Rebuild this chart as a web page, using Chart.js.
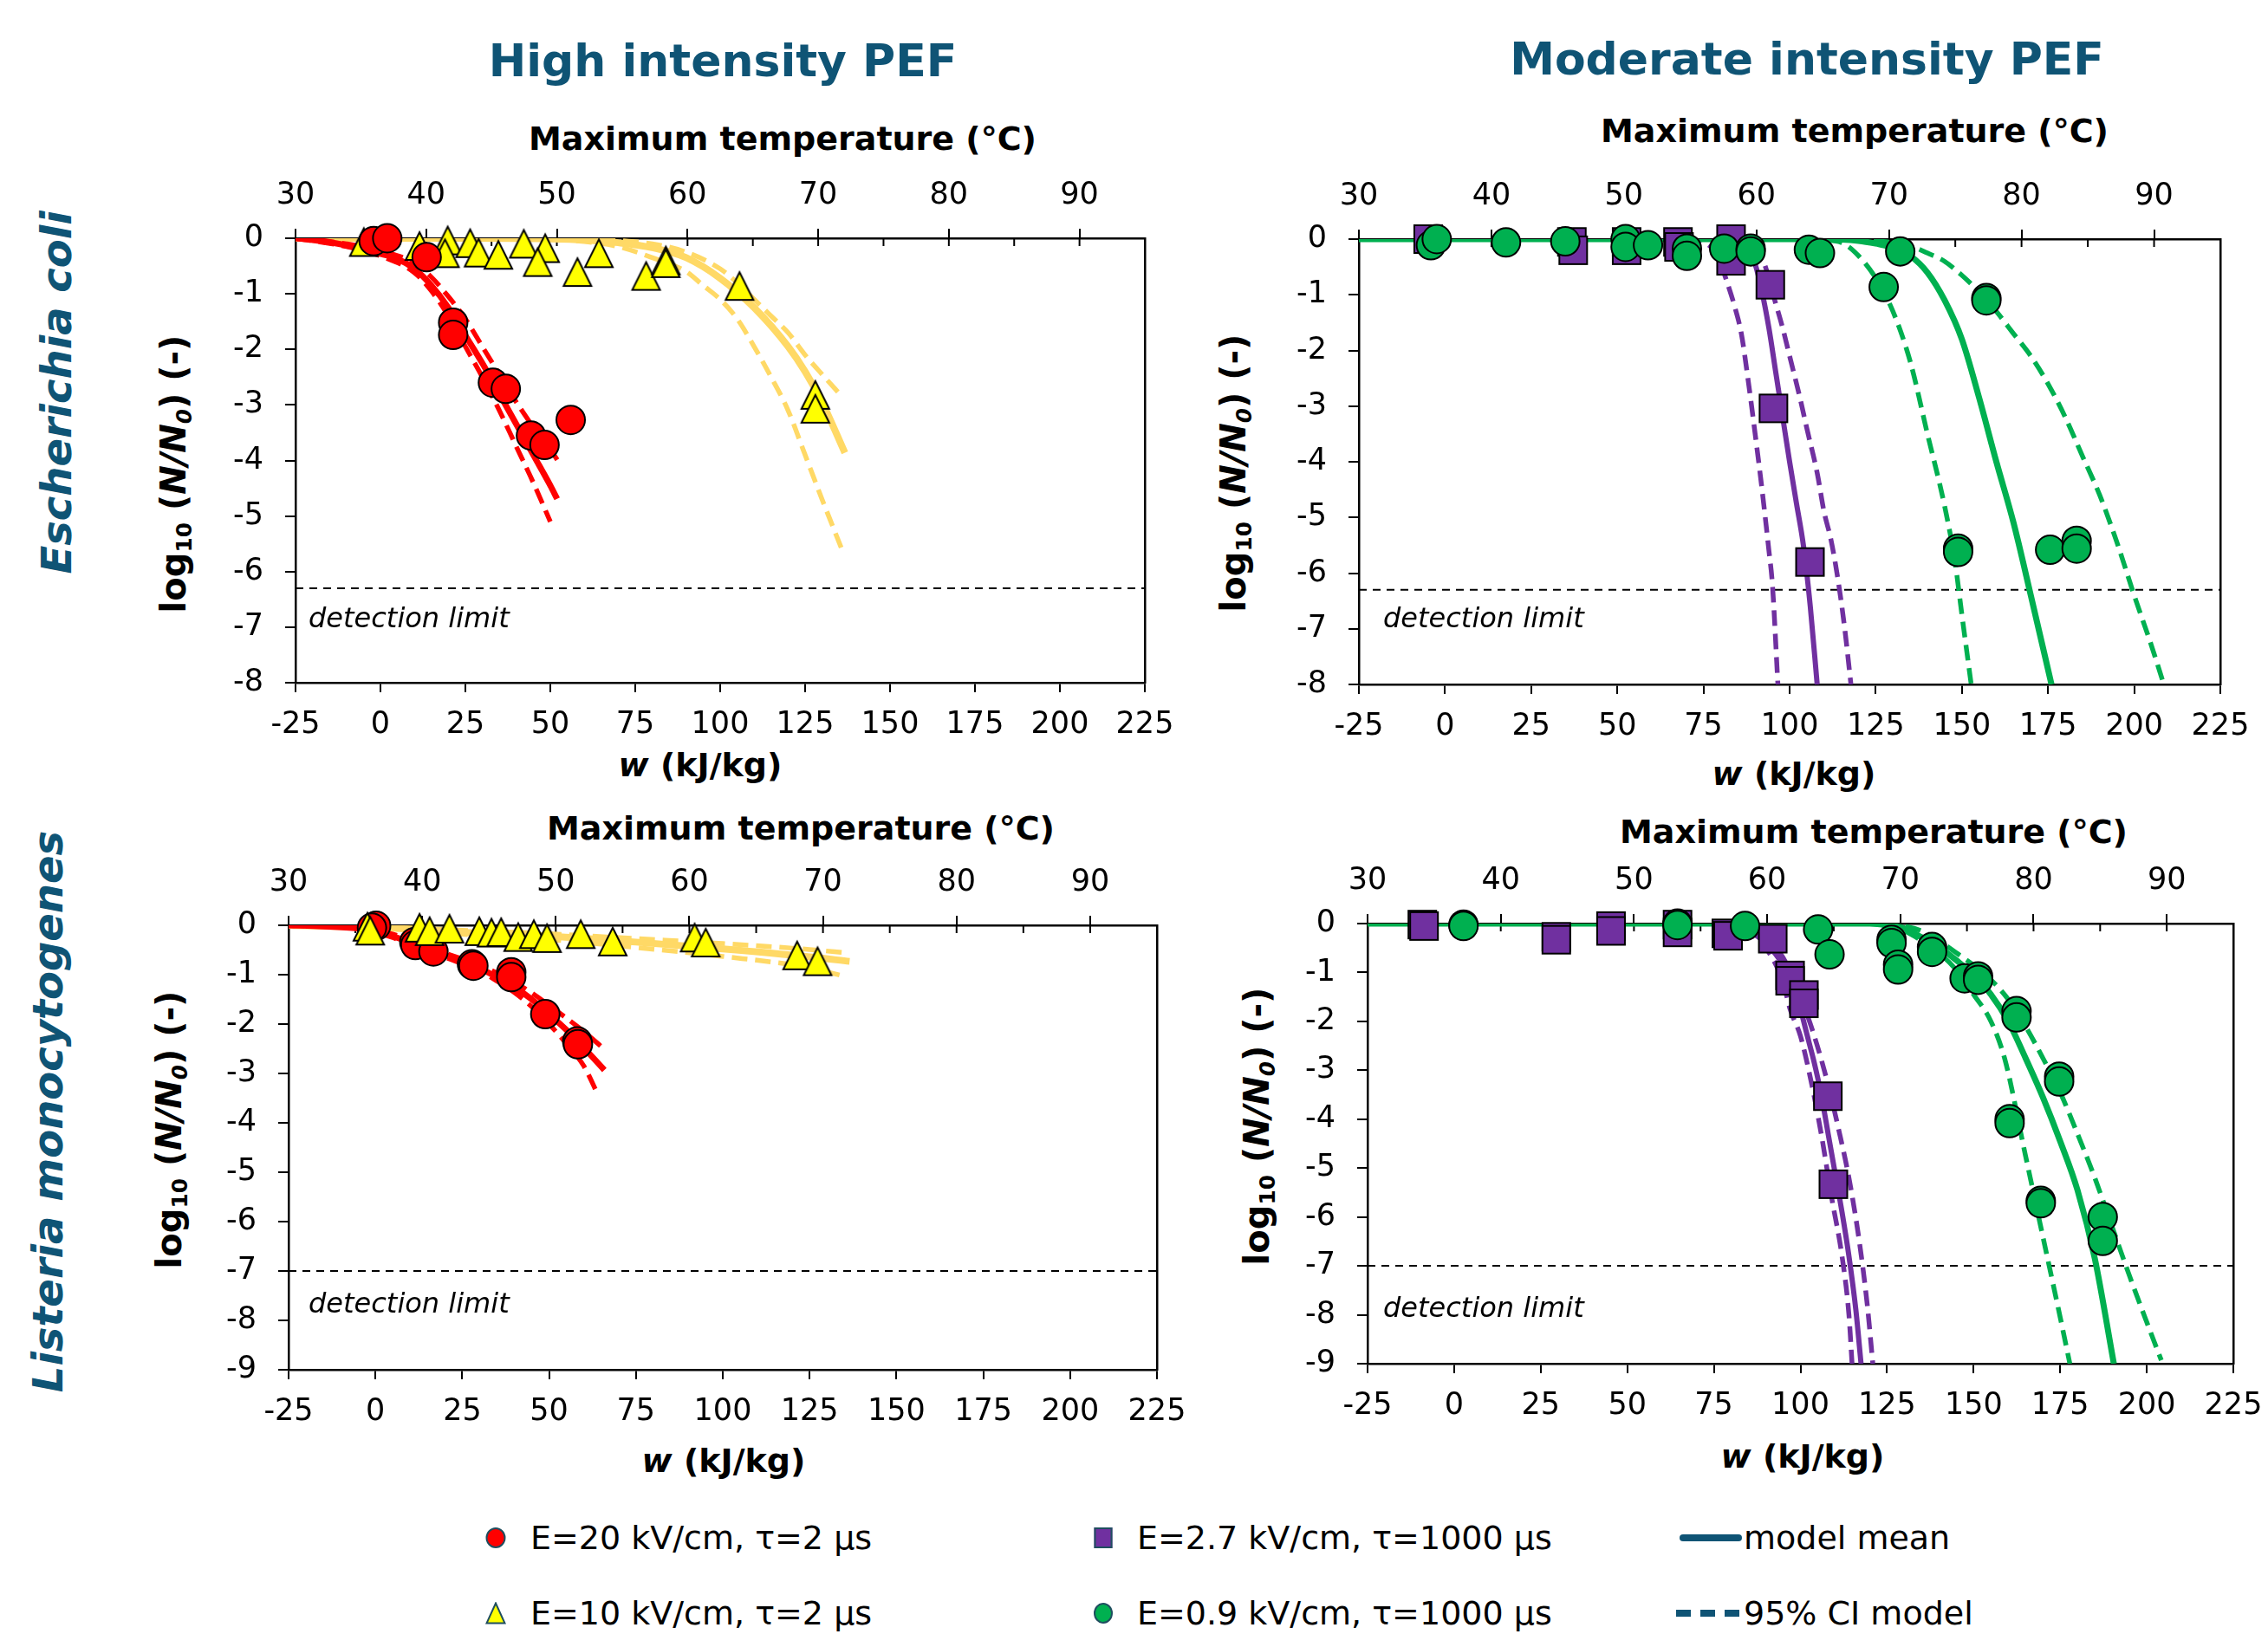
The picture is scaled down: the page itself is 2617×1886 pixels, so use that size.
<!DOCTYPE html>
<html><head><meta charset="utf-8">
<script src="https://cdn.jsdelivr.net/npm/chart.js@4.4.1/dist/chart.umd.min.js"></script>
<style>
html,body{margin:0;padding:0;background:#fff;}
body{width:2617px;height:1886px;position:relative;overflow:hidden;font-family:'DejaVu Sans',Verdana,sans-serif;color:#000;}
canvas{position:absolute;}
.t{position:absolute;transform:translate(-50%,-50%);white-space:nowrap;line-height:1;}
.rot{transform:translate(-50%,-50%) rotate(-90deg);}
.head{font-size:52px;font-weight:bold;color:#0F5475;}
.row{font-size:48px;font-weight:bold;font-style:italic;color:#0F5475;}
.ax{font-size:38px;font-weight:bold;}
.yt{font-size:40px;font-weight:bold;}
.sub{font-size:0.62em;position:relative;top:0.28em;}
.det{position:absolute;font-size:32px;font-style:italic;line-height:1;white-space:nowrap;}
.lg{position:absolute;font-size:38px;line-height:1;white-space:nowrap;transform:translateY(-50%);}
.mk{position:absolute;transform:translate(-50%,-50%);box-sizing:border-box;}
</style>
</head><body>

<div class="t head" style="left:834px;top:70px;">High intensity PEF</div>
<div class="t head" style="left:2085px;top:68px;">Moderate intensity PEF</div>
<div class="t row rot" style="left:65px;top:453px;">Escherichia coli</div>
<div class="t row rot" style="left:55px;top:1283px;">Listeria monocytogenes</div>

<div class="t ax" style="left:903px;top:160px;">Maximum temperature (°C)</div>
<div class="t ax" style="left:2140px;top:151px;">Maximum temperature (°C)</div>
<div class="t ax" style="left:924px;top:956px;">Maximum temperature (°C)</div>
<div class="t ax" style="left:2162px;top:960px;">Maximum temperature (°C)</div>

<div class="t ax" style="left:808px;top:883px;"><i>w</i> (kJ/kg)</div>
<div class="t ax" style="left:2070px;top:893px;"><i>w</i> (kJ/kg)</div>
<div class="t ax" style="left:835px;top:1686px;"><i>w</i> (kJ/kg)</div>
<div class="t ax" style="left:2080px;top:1681px;"><i>w</i> (kJ/kg)</div>

<div class="t yt rot" style="left:200px;top:547px;">log<span class="sub">10</span> (<i>N/N<span class="sub">0</span></i>) (-)</div>
<div class="t yt rot" style="left:1423px;top:546px;">log<span class="sub">10</span> (<i>N/N<span class="sub">0</span></i>) (-)</div>
<div class="t yt rot" style="left:195px;top:1304px;">log<span class="sub">10</span> (<i>N/N<span class="sub">0</span></i>) (-)</div>
<div class="t yt rot" style="left:1450px;top:1300px;">log<span class="sub">10</span> (<i>N/N<span class="sub">0</span></i>) (-)</div>

<canvas id="cTL"></canvas>
<canvas id="cTR"></canvas>
<canvas id="cBL"></canvas>
<canvas id="cBR"></canvas>

<div class="det" style="left:356px;top:697px;">detection limit</div>
<div class="det" style="left:1596px;top:697px;">detection limit</div>
<div class="det" style="left:356px;top:1488px;">detection limit</div>
<div class="det" style="left:1596px;top:1493px;">detection limit</div>

<!-- legend -->
<div class="mk" style="left:572px;top:1775px;width:23px;height:24px;border-radius:50%;background:#FF0000;border:2px solid #1F4E5F;"></div>
<div class="lg" style="left:612px;top:1775px;">E=20 kV/cm, τ=2 μs</div>
<svg class="mk" style="left:572px;top:1862px;" width="24" height="26" viewBox="0 0 24 26"><polygon points="12,1.5 22.5,24.5 1.5,24.5" fill="#FFFF00" stroke="#1F4E5F" stroke-width="2"/></svg>
<div class="lg" style="left:612px;top:1862px;">E=10 kV/cm, τ=2 μs</div>
<div class="mk" style="left:1273px;top:1775px;width:21px;height:24px;background:#7030A0;border:2px solid #1F4E5F;"></div>
<div class="lg" style="left:1312px;top:1775px;">E=2.7 kV/cm, τ=1000 μs</div>
<div class="mk" style="left:1273px;top:1862px;width:22px;height:24px;border-radius:50%;background:#00B050;border:2px solid #1F4E5F;"></div>
<div class="lg" style="left:1312px;top:1862px;">E=0.9 kV/cm, τ=1000 μs</div>
<div style="position:absolute;left:1938px;top:1771px;width:72px;height:8px;border-radius:4px;background:#0F5475;"></div>
<div class="lg" style="left:2012px;top:1775px;">model mean</div>
<div style="position:absolute;left:1934px;top:1858px;width:74px;height:8px;background:repeating-linear-gradient(to right,#0F5475 0 17px,transparent 17px 28px);"></div>
<div class="lg" style="left:2012px;top:1862px;">95% CI model</div>

<script>
// ---------------- DATA ----------------
// axis ranges
const wTicks = [-25, 225];          // w axis (kJ/kg) bounds
const tempTicks = [30, 95];         // maximum temperature axis (°C) bounds
const yMinTop = -8, yMinBottom = -9;
const detLimitTop = -6.3;           // E. coli detection limit
const detLimitBottom = -7.0;        // L. monocytogenes detection limit

// ===== E. coli, high intensity =====
const ecHiRed_w = [-2, 2, 13.6, 21.4, 21.4, 33.1, 36.9, 44.3, 48.3, 56.0];
const ecHiRed_y = [-0.05, 0.0, -0.34, -1.52, -1.74, -2.6, -2.71, -3.55, -3.72, -3.27];
const ecHiYel_w = [-4.9, 11.5, 19.8, 19.0, 26.4, 28.9, 34.7, 42.2, 48.5, 46.3, 58.0, 64.3, 78.2, 84.0, 84.0, 105.7, 128.0, 128.0];
const ecHiYel_y = [-0.07, -0.14, -0.04, -0.27, -0.09, -0.26, -0.3, -0.1, -0.18, -0.43, -0.61, -0.27, -0.68, -0.4, -0.45, -0.86, -2.82, -3.07];

const ecHiRedMean_w = [-25, -20, -15, -10, -5, 0, 5, 10, 15, 20, 25, 30, 35, 40, 45, 50, 52];
const ecHiRedMean_y = [0, -0.03, -0.07, -0.13, -0.2, -0.28, -0.37, -0.55, -0.85, -1.25, -1.75, -2.25, -2.8, -3.35, -3.9, -4.45, -4.69];
const ecHiRedUp_w = [-25, -10, 0, 10, 15, 20, 25, 30, 35, 40, 45, 50, 53];
const ecHiRedUp_y = [0, -0.1, -0.22, -0.45, -0.7, -1.05, -1.45, -1.95, -2.45, -2.95, -3.4, -3.8, -4.08];
const ecHiRedLo_w = [-25, -10, 0, 10, 15, 20, 25, 30, 35, 40, 45, 50];
const ecHiRedLo_y = [0, -0.15, -0.32, -0.62, -0.95, -1.4, -1.95, -2.5, -3.1, -3.75, -4.4, -5.1];

const ecHiYelMean_w = [-25, 0, 25, 50, 60, 70, 80, 90, 100, 110, 120, 125, 130, 136.7];
const ecHiYelMean_y = [0, 0, 0, -0.01, -0.03, -0.08, -0.17, -0.35, -0.72, -1.25, -1.95, -2.4, -2.95, -3.86];
const ecHiYelUp_w = [-25, 0, 25, 50, 60, 70, 80, 90, 100, 105, 110, 115, 120, 125, 130, 135.6];
const ecHiYelUp_y = [0, 0, 0, 0, -0.01, -0.04, -0.1, -0.25, -0.55, -0.8, -1.1, -1.4, -1.7, -2.1, -2.45, -2.83];
const ecHiYelLo_w = [-25, 0, 25, 50, 60, 70, 80, 90, 95, 100, 105, 110, 115, 120, 125, 130, 136.4];
const ecHiYelLo_y = [0, 0, -0.01, -0.02, -0.06, -0.15, -0.35, -0.6, -0.85, -1.1, -1.45, -1.95, -2.5, -3.1, -3.9, -4.7, -5.69];

// ===== E. coli, moderate intensity =====
const ecMoPur_w = [-4.9, 36.8, 37.2, 52.7, 52.7, 67.6, 67.9, 83, 83, 94.4, 95.3, 105.9];
const ecMoPur_y = [0, -0.05, -0.2, -0.05, -0.2, -0.05, -0.14, 0, -0.39, -0.82, -3.04, -5.8];
const ecMoGrn_w = [-4.1, -2.4, 17.7, 34.9, 52.4, 52.4, 58.9, 70.2, 70.2, 81, 88.7, 88.7, 105.6, 108.8, 127.3, 132.1, 157.1, 157.1, 148.9, 148.9, 175.6, 183.3, 183.3];
const ecMoGrn_y = [-0.11, 0, -0.06, -0.04, 0, -0.14, -0.11, -0.17, -0.3, -0.17, -0.17, -0.22, -0.19, -0.25, -0.86, -0.22, -1.06, -1.1, -5.56, -5.62, -5.58, -5.42, -5.56];

const ecMoPurMean_w = [-25, 80, 85, 88, 90, 92, 94, 96, 98, 100, 102, 104, 106, 108];
const ecMoPurMean_y = [0, 0, -0.05, -0.2, -0.45, -0.95, -1.6, -2.4, -3.2, -4.0, -4.75, -5.5, -6.6, -8];
const ecMoPurLo_w = [-25, 70, 75, 78, 80, 82, 84, 86, 88, 90, 92, 94, 95, 96.6];
const ecMoPurLo_y = [0, 0, -0.05, -0.2, -0.45, -0.8, -1.2, -1.7, -2.55, -3.5, -4.5, -5.6, -6.2, -8];
const ecMoPurUp_w = [-25, 85, 90, 93, 95, 98, 100, 103, 105, 108, 110, 112, 114, 116, 117.8];
const ecMoPurUp_y = [0, 0, -0.1, -0.5, -0.95, -1.6, -2.1, -2.85, -3.4, -4.2, -4.9, -5.4, -6.1, -7.0, -8];

const ecMoGrnMean_w = [-25, 110, 120, 125, 130, 135, 140, 145, 150, 155, 160, 165, 170, 176];
const ecMoGrnMean_y = [0, 0, -0.03, -0.08, -0.15, -0.3, -0.6, -1.1, -1.8, -2.85, -4.0, -5.1, -6.4, -8];
const ecMoGrnLo_w = [-25, 105, 110, 115, 120, 125, 130, 135, 140, 145, 148, 150, 152.7];
const ecMoGrnLo_y = [0, 0, -0.02, -0.06, -0.3, -0.7, -1.3, -2.2, -3.5, -4.8, -5.8, -6.75, -8];
const ecMoGrnUp_w = [-25, 115, 125, 135, 140, 145, 150, 155, 160, 165, 170, 175, 180, 185, 190, 195, 200, 205, 208.6];
const ecMoGrnUp_y = [0, 0, -0.03, -0.12, -0.25, -0.4, -0.65, -0.95, -1.3, -1.7, -2.1, -2.6, -3.2, -3.9, -4.6, -5.45, -6.4, -7.3, -8];

// ===== L. monocytogenes, high intensity =====
const lmHiRed_w = [0.2, -1.0, 11.2, 11.5, 16.7, 27.8, 28.2, 39.1, 39.1, 48.9, 58.1, 58.3];
const lmHiRed_y = [-0.01, -0.05, -0.34, -0.4, -0.53, -0.79, -0.82, -0.95, -1.05, -1.8, -2.35, -2.41];
const lmHiYel_w = [-2.3, -1.5, 12.7, 15.6, 21.3, 29.9, 33.4, 36.2, 41.1, 45.6, 49.4, 59.1, 68.3, 91.9, 95.1, 121.4, 127.3];
const lmHiYel_y = [-0.03, -0.11, -0.05, -0.12, -0.07, -0.12, -0.15, -0.14, -0.24, -0.18, -0.26, -0.18, -0.33, -0.25, -0.35, -0.61, -0.73];

const lmHiRedMean_w = [-25, -15, -5, 0, 5, 10, 15, 20, 25, 30, 35, 40, 45, 50, 55, 60, 65.9];
const lmHiRedMean_y = [0, -0.02, -0.06, -0.11, -0.22, -0.35, -0.48, -0.6, -0.73, -0.87, -1.05, -1.25, -1.5, -1.8, -2.12, -2.48, -2.93];
const lmHiRedUp_w = [-25, -5, 5, 15, 25, 30, 35, 40, 45, 50, 55, 60, 65.9];
const lmHiRedUp_y = [0, -0.05, -0.18, -0.44, -0.68, -0.8, -0.97, -1.15, -1.37, -1.62, -1.88, -2.15, -2.51];
const lmHiRedLo_w = [-25, -5, 5, 15, 25, 30, 35, 40, 45, 50, 55, 60, 64];
const lmHiRedLo_y = [0, -0.07, -0.25, -0.52, -0.78, -0.92, -1.13, -1.36, -1.65, -2.0, -2.4, -2.85, -3.42];

const lmHiYelMean_w = [-25, 0, 25, 50, 75, 100, 125, 136.5];
const lmHiYelMean_y = [0, -0.04, -0.14, -0.22, -0.34, -0.48, -0.64, -0.73];
const lmHiYelUp_w = [-25, 0, 25, 50, 75, 100, 125, 135.7];
const lmHiYelUp_y = [0, -0.03, -0.1, -0.17, -0.27, -0.37, -0.49, -0.56];
const lmHiYelLo_w = [-25, 0, 25, 50, 75, 100, 125, 134.9];
const lmHiYelLo_y = [0, -0.05, -0.18, -0.29, -0.45, -0.63, -0.86, -1.03];

// ===== L. monocytogenes, moderate intensity =====
const lmMoPur_w = [-9.2, -8.7, 29.5, 29.5, 45.3, 45.3, 64.5, 64.5, 78.6, 79.1, 92, 97, 97, 101, 101, 107.9, 109.5];
const lmMoPur_y = [-0.02, -0.05, -0.27, -0.33, -0.05, -0.15, -0.02, -0.18, -0.2, -0.25, -0.31, -1.06, -1.17, -1.46, -1.63, -3.53, -5.33];
const lmMoGrn_w = [2.7, 2.7, 64.5, 64.5, 84, 105.1, 108.4, 126.3, 126.3, 128.2, 128.2, 138, 138, 147.4, 151.3, 151.3, 162.4, 162.4, 160.4, 160.4, 174.7, 174.7, 169.4, 169.4, 187.3, 187.3];
const lmMoGrn_y = [-0.02, -0.05, 0, -0.03, -0.05, -0.12, -0.63, -0.33, -0.4, -0.84, -0.94, -0.48, -0.58, -1.12, -1.08, -1.15, -1.79, -1.92, -4.0, -4.08, -3.13, -3.23, -5.67, -5.72, -6.0, -6.49];

const lmMoPurMean_w = [-25, 75, 80, 85, 90, 95, 98, 100, 102, 104, 106, 108, 110, 112, 114, 116, 117.5];
const lmMoPurMean_y = [0, 0, -0.05, -0.15, -0.4, -0.85, -1.3, -1.75, -2.3, -2.85, -3.5, -4.3, -5.1, -5.9, -6.8, -7.9, -9];
const lmMoPurUp_w = [-25, 75, 85, 90, 95, 100, 104, 108, 111, 114, 117, 119.3, 120.9];
const lmMoPurUp_y = [0, 0, -0.1, -0.3, -0.7, -1.5, -2.3, -3.3, -4.2, -5.2, -6.5, -7.8, -9];
const lmMoPurLo_w = [-25, 75, 85, 90, 95, 97, 100, 103, 106, 109, 112, 114, 114.9];
const lmMoPurLo_y = [0, 0, -0.2, -0.5, -1.2, -1.75, -2.3, -3.2, -4.3, -5.6, -6.8, -8.0, -9];

const lmMoGrnMean_w = [-25, 120, 125, 130, 135, 140, 145, 150, 155, 160, 165, 170, 175, 180, 185, 190.5];
const lmMoGrnMean_y = [0, 0, -0.03, -0.1, -0.28, -0.48, -0.75, -1.05, -1.45, -2.0, -2.75, -3.55, -4.45, -5.45, -6.85, -9];
const lmMoGrnLo_w = [-25, 120, 125, 130, 135, 140, 145, 150, 155, 159, 165, 170, 175, 177.8];
const lmMoGrnLo_y = [0, 0, -0.05, -0.15, -0.35, -0.6, -0.95, -1.45, -2.0, -2.77, -4.75, -6.4, -8.05, -9];
const lmMoGrnUp_w = [-25, 120, 130, 135, 140, 145, 150, 155, 160, 165, 170, 175, 180, 185, 190, 195, 200, 204.2];
const lmMoGrnUp_y = [0, 0, -0.05, -0.15, -0.35, -0.6, -0.85, -1.15, -1.55, -2.1, -2.75, -3.45, -4.3, -5.2, -6.2, -7.2, -8.15, -8.93];

// ---------------- STYLE ----------------
const RED = '#FF0000', GOLD = '#FFD966', YEL = '#FFFF00', PUR = '#7030A0', GRN = '#00B050';
const DASH = [18, 9];
const MEAN_W = 7, CI_W = 5.5;
const PAD = {l: 110, r: 60, t: 90, b: 90};
Chart.defaults.font.family = "'DejaVu Sans', Verdana, sans-serif";
Chart.defaults.color = '#000';

function pts(w, y) { return w.map((v, i) => ({x: v, y: y[i]})); }
function makeImg(kind, fill) {
  const c = document.createElement('canvas'); c.width = 38; c.height = 38;
  const g = c.getContext('2d'); g.fillStyle = fill; g.strokeStyle = '#000'; g.lineWidth = 2;
  g.beginPath();
  if (kind === 'tri') { g.moveTo(19, 3); g.lineTo(35, 35); g.lineTo(3, 35); g.closePath(); }
  else { g.rect(3, 3, 32, 32); }
  g.fill(); g.stroke(); return c;
}
const TRI = makeImg('tri', YEL), SQR = makeImg('sq', PUR);

function markers(w, y, style, color) {
  return {data: pts(w, y), showLine: false, pointStyle: style, pointRadius: 16.5,
    pointBackgroundColor: color, pointBorderColor: '#000', pointBorderWidth: 2, clip: false};
}
function curve(w, y, color, width, dash) {
  return {data: pts(w, y), showLine: true, pointRadius: 0, borderColor: color, borderWidth: width,
    borderDash: dash || [], cubicInterpolationMode: 'monotone', clip: 0, fill: false};
}
function detLine(v) {
  return {data: pts(wTicks, [v, v]), showLine: true, pointRadius: 0, borderColor: '#000',
    borderWidth: 2, borderDash: [9, 7], clip: 0, fill: false};
}

const innerTicks = {
  id: 'innerTicks',
  beforeDatasetsDraw(chart) {
    const s = chart.scales.x2, ctx = chart.ctx;
    ctx.save(); ctx.strokeStyle = '#000'; ctx.lineWidth = 2;
    s.ticks.forEach(t => {
      if (t.value >= tempTicks[1]) return;
      const px = s.getPixelForValue(t.value);
      ctx.beginPath(); ctx.moveTo(px, s.bottom); ctx.lineTo(px, s.bottom + 9); ctx.stroke();
    });
    ctx.restore();
  }
};

function panel(id, L, R, T, B, yMin, datasets) {
  const cv = document.getElementById(id);
  cv.width = (R - L) + PAD.l + PAD.r; cv.height = (B - T) + PAD.t + PAD.b;
  cv.style.left = (L - PAD.l) + 'px'; cv.style.top = (T - PAD.t) + 'px';
  const tickFont = {size: 35};
  const border = {display: true, color: '#000', width: 2.5};
  new Chart(cv, {
    type: 'scatter',
    data: {datasets},
    options: {
      responsive: false, animation: false, events: [], devicePixelRatio: 1,
      layout: {padding: 0},
      plugins: {legend: {display: false}, tooltip: {enabled: false}},
      scales: {
        x: {type: 'linear', axis: 'x', position: 'bottom', min: wTicks[0], max: wTicks[1],
          ticks: {stepSize: 25, font: tickFont, padding: 17, maxRotation: 0, autoSkip: false},
          grid: {drawOnChartArea: false, tickLength: 11, color: '#000', lineWidth: 2},
          border, afterFit(s) { s.height = PAD.b; }},
        x2: {type: 'linear', axis: 'x', position: 'top', min: tempTicks[0], max: tempTicks[1],
          ticks: {stepSize: 5, font: tickFont, padding: 17, maxRotation: 0, autoSkip: false,
            callback: v => (v % 10 === 0 && v < tempTicks[1]) ? String(v) : ''},
          grid: {drawOnChartArea: false, tickLength: 11, lineWidth: 2,
            color: c => (c.tick && c.tick.value % 10 === 0 && c.tick.value < tempTicks[1]) ? '#000' : 'rgba(0,0,0,0)'},
          border, afterFit(s) { s.height = PAD.t; }},
        y: {type: 'linear', axis: 'y', position: 'left', min: yMin, max: 0,
          ticks: {stepSize: 1, font: tickFont, padding: 25, autoSkip: false},
          grid: {drawOnChartArea: false, tickLength: 12, color: '#000', lineWidth: 2},
          border, afterFit(s) { s.width = PAD.l; }},
        yR: {type: 'linear', axis: 'y', position: 'right', min: yMin, max: 0,
          ticks: {display: false}, grid: {display: false, drawTicks: false},
          border, afterFit(s) { s.width = PAD.r; }}
      }
    },
    plugins: [innerTicks]
  });
}

// E. coli - high intensity
panel('cTL', 341, 1321, 275, 788, yMinTop, [
  markers(ecHiRed_w, ecHiRed_y, 'circle', RED),
  markers(ecHiYel_w, ecHiYel_y, TRI, YEL),
  curve(ecHiRedMean_w, ecHiRedMean_y, RED, MEAN_W),
  curve(ecHiRedUp_w, ecHiRedUp_y, RED, CI_W, DASH),
  curve(ecHiRedLo_w, ecHiRedLo_y, RED, CI_W, DASH),
  curve(ecHiYelMean_w, ecHiYelMean_y, GOLD, 8),
  curve(ecHiYelUp_w, ecHiYelUp_y, GOLD, CI_W, DASH),
  curve(ecHiYelLo_w, ecHiYelLo_y, GOLD, CI_W, DASH),
  detLine(detLimitTop)
]);
// E. coli - moderate intensity
panel('cTR', 1568, 2562, 276, 790, yMinTop, [
  markers(ecMoGrn_w, ecMoGrn_y, 'circle', GRN),
  markers(ecMoPur_w, ecMoPur_y, SQR, PUR),
  curve(ecMoGrnMean_w, ecMoGrnMean_y, GRN, MEAN_W),
  curve(ecMoGrnUp_w, ecMoGrnUp_y, GRN, CI_W, DASH),
  curve(ecMoGrnLo_w, ecMoGrnLo_y, GRN, CI_W, DASH),
  curve(ecMoPurMean_w, ecMoPurMean_y, PUR, 6),
  curve(ecMoPurUp_w, ecMoPurUp_y, PUR, CI_W, DASH),
  curve(ecMoPurLo_w, ecMoPurLo_y, PUR, CI_W, DASH),
  detLine(detLimitTop)
]);
// L. monocytogenes - high intensity
panel('cBL', 333, 1335, 1068, 1581, yMinBottom, [
  markers(lmHiYel_w, lmHiYel_y, TRI, YEL),
  markers(lmHiRed_w, lmHiRed_y, 'circle', RED),
  curve(lmHiRedMean_w, lmHiRedMean_y, RED, MEAN_W),
  curve(lmHiRedUp_w, lmHiRedUp_y, RED, CI_W, DASH),
  curve(lmHiRedLo_w, lmHiRedLo_y, RED, CI_W, DASH),
  curve(lmHiYelMean_w, lmHiYelMean_y, GOLD, 8),
  curve(lmHiYelUp_w, lmHiYelUp_y, GOLD, CI_W, DASH),
  curve(lmHiYelLo_w, lmHiYelLo_y, GOLD, CI_W, DASH),
  detLine(detLimitBottom)
]);
// L. monocytogenes - moderate intensity
panel('cBR', 1578, 2577, 1066, 1574, yMinBottom, [
  markers(lmMoGrn_w, lmMoGrn_y, 'circle', GRN),
  markers(lmMoPur_w, lmMoPur_y, SQR, PUR),
  curve(lmMoGrnMean_w, lmMoGrnMean_y, GRN, MEAN_W),
  curve(lmMoGrnUp_w, lmMoGrnUp_y, GRN, CI_W, DASH),
  curve(lmMoGrnLo_w, lmMoGrnLo_y, GRN, CI_W, DASH),
  curve(lmMoPurMean_w, lmMoPurMean_y, PUR, 6),
  curve(lmMoPurUp_w, lmMoPurUp_y, PUR, CI_W, DASH),
  curve(lmMoPurLo_w, lmMoPurLo_y, PUR, CI_W, DASH),
  detLine(detLimitBottom)
]);
</script>
</body></html>
